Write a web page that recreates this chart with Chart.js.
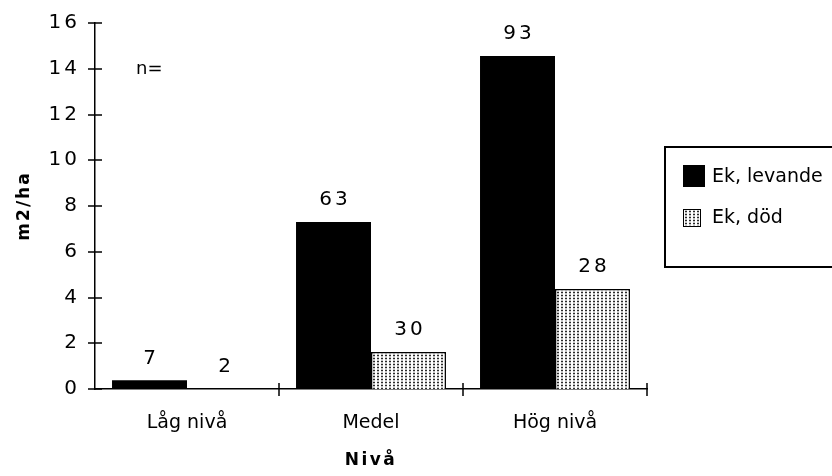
<!DOCTYPE html>
<html>
<head>
<meta charset="utf-8">
<script src="https://cdn.jsdelivr.net/npm/chart.js@4.4.0/dist/chart.umd.min.js"></script>
<style>
    html, body { margin: 0; padding: 0; background: #fff; }
</style>
</head>
<body>
<canvas id="chart" width="832" height="476"></canvas>
<script>
// data
const categories = ['Låg nivå', 'Medel', 'Hög nivå'];
const seriesNames = ['Ek, levande', 'Ek, död'];
const levande = [0.38, 7.3, 14.56];
const dod = [0, 1.62, 4.37];
const nLevande = [7, 63, 93];
const nDod = [2, 30, 28];
const yMin = 0, yMax = 16, yStep = 2;

const FONT = '"DejaVu Sans", Verdana, sans-serif';

function dotPattern(ctx)
{
    // columns of small dark dots with white gaps between them
    const tile = document.createElement('canvas');
    tile.width = 4;
    tile.height = 3;
    const g = tile.getContext('2d');
    g.fillStyle = '#fff';
    g.fillRect(0, 0, 4, 3);
    g.fillStyle = '#c4c4c4';
    g.fillRect(1, 0, 2, 3);
    g.fillStyle = '#2a2a2a';
    g.fillRect(1, 1, 2, 1);
    return ctx.createPattern(tile, 'repeat');
}

// letter spacing for the monaco-ish digits and the bold titles
const spacing = {
    id: 'spacing',
    beforeLayout(chart) {
        if (chart._spaced) {
            return;
        }
        chart._spaced = true;
        const ctx = chart.ctx;
        const wrap = (obj, name, px) => {
            const orig = obj[name].bind(obj);
            obj[name] = function (a) {
                ctx.save();
                ctx.letterSpacing = px;
                orig(a);
                ctx.restore();
            };
        };
        wrap(chart.scales.y, 'drawLabels', '3px');
        wrap(chart.scales.y, 'drawTitle', '2px');
        wrap(chart.scales.x, 'drawTitle', '2.5px');
    }
};

// tick marks crossing the axes
const axisTicks = {
    id: 'axisTicks',
    afterDraw(chart) {
        const { ctx, scales: { x, y } } = chart;
        ctx.save();
        ctx.strokeStyle = '#000';
        ctx.lineWidth = 1.5;
        ctx.beginPath();
        y.ticks.forEach(t => {
            const py = Math.round(y.getPixelForValue(t.value));
            ctx.moveTo(x.left - 7, py);
            ctx.lineTo(x.left + 7, py);
        });
        for (let i = 0; i < categories.length; i++) {
            const px = Math.round(x.getPixelForValue(i + 0.5));
            ctx.moveTo(px, y.bottom - 6);
            ctx.lineTo(px, y.bottom + 7);
        }
        ctx.stroke();
        ctx.restore();
    }
};

// n= counts above each bar
const countLabels = {
    id: 'countLabels',
    afterDatasetsDraw(chart) {
        const ctx = chart.ctx;
        const counts = [nLevande, nDod];
        ctx.save();
        ctx.font = '20px ' + FONT;
        ctx.letterSpacing = '3px';
        ctx.fillStyle = '#000';
        ctx.textAlign = 'center';
        ctx.textBaseline = 'middle';
        counts.forEach((arr, d) => {
            chart.getDatasetMeta(d).data.forEach((bar, i) => {
                ctx.fillText(String(arr[i]), bar.x + 1.5, bar.y - 22);
            });
        });
        ctx.letterSpacing = '0px';
        ctx.font = '18px ' + FONT;
        ctx.textAlign = 'left';
        const y = chart.scales.y;
        ctx.fillText('n=', 136, y.getPixelForValue(14) + 1);
        ctx.restore();
    }
};

// boxed legend on the right
const boxLegend = {
    id: 'boxLegend',
    afterDraw(chart) {
        const ctx = chart.ctx;
        ctx.save();
        ctx.strokeStyle = '#000';
        ctx.lineWidth = 2;
        ctx.strokeRect(665, 147, 180, 120);
        const items = [
            { top: 165, size: 22, textY: 177 },
            { top: 209, size: 18, textY: 218 }
        ];
        ctx.font = '19px ' + FONT;
        ctx.textBaseline = 'middle';
        chart.data.datasets.forEach((ds, i) => {
            const it = items[i];
            ctx.fillStyle = ds.backgroundColor;
            ctx.fillRect(683, it.top, it.size, it.size);
            if (ds.borderWidth) {
                ctx.lineWidth = 1;
                ctx.strokeRect(683.5, it.top + 0.5, it.size - 1, it.size - 1);
            }
            ctx.fillStyle = '#000';
            ctx.fillText(ds.label, 712, it.textY);
        });
        ctx.restore();
    }
};

const canvas = document.getElementById('chart');
const ctx = canvas.getContext('2d');

new Chart(ctx, {
    type: 'bar',
    data: {
        labels: categories,
        datasets: [
            { label: seriesNames[0], data: levande, backgroundColor: '#000', borderWidth: 0 },
            { label: seriesNames[1], data: dod, backgroundColor: dotPattern(ctx), borderColor: '#000', borderWidth: 1.5 }
        ]
    },
    options: {
        responsive: false,
        animation: false,
        devicePixelRatio: 1,
        layout: { padding: { top: 23, right: 185, left: 0, bottom: 0 } },
        datasets: { bar: { categoryPercentage: 0.815, barPercentage: 1 } },
        plugins: {
            legend: { display: false },
            tooltip: { enabled: false }
        },
        scales: {
            x: {
                afterFit: s => {
                    s.height = 87;
                    s.paddingLeft = 0;
                    s.paddingRight = 0;
                },
                grid: { display: false, drawTicks: false },
                border: { color: '#000', width: 1.5 },
                ticks: { color: '#000', font: { family: FONT, size: 19 }, padding: 23 },
                title: {
                    display: true,
                    text: 'Nivå',
                    color: '#000',
                    font: { family: FONT, size: 17, weight: 'bold' },
                    padding: { top: 0, bottom: 5 }
                }
            },
            y: {
                min: yMin,
                max: yMax,
                afterFit: s => {
                    s.width = 95;
                    s.paddingTop = 0;
                    s.paddingBottom = 0;
                },
                grid: { display: false, drawTicks: false },
                border: { color: '#000', width: 1.5 },
                ticks: { stepSize: yStep, color: '#000', font: { family: FONT, size: 20 }, padding: 15 },
                title: {
                    display: true,
                    text: 'm2/ha',
                    color: '#000',
                    font: { family: FONT, size: 17, weight: 'bold' },
                    padding: { top: 14, bottom: 0 }
                }
            }
        }
    },
    plugins: [spacing, axisTicks, countLabels, boxLegend]
});
</script>
</body>
</html>
